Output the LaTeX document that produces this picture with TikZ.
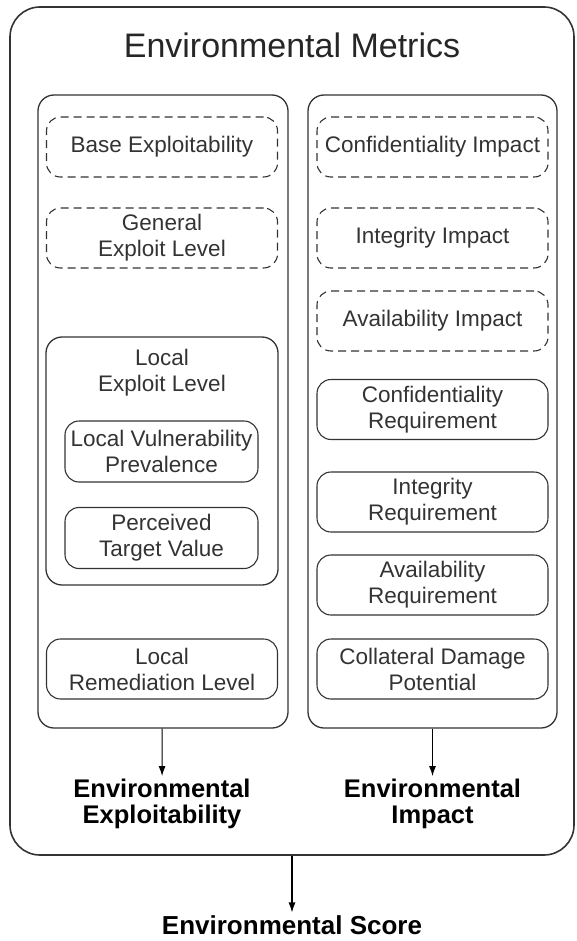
\documentclass[tikz,border=0pt]{standalone}
\usepackage{fontspec}
\setmainfont{Liberation Sans}
\usetikzlibrary{positioning,arrows.meta}
\begin{document}
\begin{tikzpicture} [
                x=1pt, y=-1pt,
                line join=round,
                metric/.style = {draw=black!80,line width=1.1pt,rounded corners=14pt,
                    minimum width=231pt,minimum height=60pt,inner sep=0pt,align=center,
                    text=black!80,font=\fontsize{22.5}{26}\selectfont},
                base metric/.style = {metric,dash pattern=on 8pt off 5pt},
                sub metric/.style = {metric,minimum width=193pt,minimum height=61pt},
                panel/.style = {draw=black!80,line width=1.3pt,rounded corners=16pt,inner sep=0pt},
                result/.style = {align=center,inner sep=0pt,outer sep=3pt,font=\bfseries\fontsize{25.5}{26}\selectfont},
                arrow edge/.style = {draw,line width=1.1pt,-{Latex[length=10pt,width=7pt]}},
            ]
            \useasboundingbox (0,0) rectangle (576,941);
            % outer frame and the two columns
            \node[panel,line width=1.6pt,rounded corners=30pt,minimum width=564pt,minimum height=848pt] (env) at (292,431) {};
            \node[font=\fontsize{34}{38}\selectfont,text=black!85] (title) at (292,45) {Environmental Metrics};
            \node[panel,minimum width=250pt,minimum height=633pt] (expl) at (163,411.5) {};
            \node[panel,minimum width=249pt,minimum height=633pt] (imp) at (432.5,411.5) {};
            \node[panel,minimum width=232pt,minimum height=248pt] (lexp) at (162,461) {};
            \node[align=center,text=black!80,font=\fontsize{22.5}{26}\selectfont] (lexptitle) at (162,373) {Local\\Exploit Level};
            % metrics
            \foreach \pos/\name/\label in {
            {(162,147)/bexp/{Base Exploitability}}, {(162,238)/gexp/{General\\Exploit Level}},
            {(432.5,147)/cimp/{Confidentiality Impact}}, {(432.5,238)/iimp/{Integrity Impact}},
            {(432.5,321)/aimp/{Availability Impact}}}
                \node[base metric] (\name) at \pos {\label};
            \foreach \pos/\name/\label in {
            {(162,669)/lrem/{Local\\Remediation Level}},
            {(432.5,409.5)/creq/{Confidentiality\\Requirement}}, {(432.5,502)/ireq/{Integrity\\Requirement}},
            {(432.5,585)/areq/{Availability\\Requirement}}, {(432.5,669)/cdp/{Collateral Damage\\Potential}}}
                \node[metric] (\name) at \pos {\label};
            \foreach \pos/\name/\label in {
            {(161.5,451.5)/lvp/{Local Vulnerability\\Prevalence}}, {(161.5,538)/ptv/{Perceived\\Target Value}}}
                \node[sub metric] (\name) at \pos {\label};
            % results
            \node[result] (eexp) at (162,804) {Environmental\\Exploitability};
            \node[result] (eimp) at (432.5,804) {Environmental\\Impact};
            \node[result,font=\bfseries\fontsize{26}{30}\selectfont] (score) at (292,925) {Environmental Score};
            \path[arrow edge] (expl) -- (eexp);
            \path[arrow edge] (imp) -- (eimp);
            \path[arrow edge] (env) -- (score);
        \end{tikzpicture}
\end{document}
